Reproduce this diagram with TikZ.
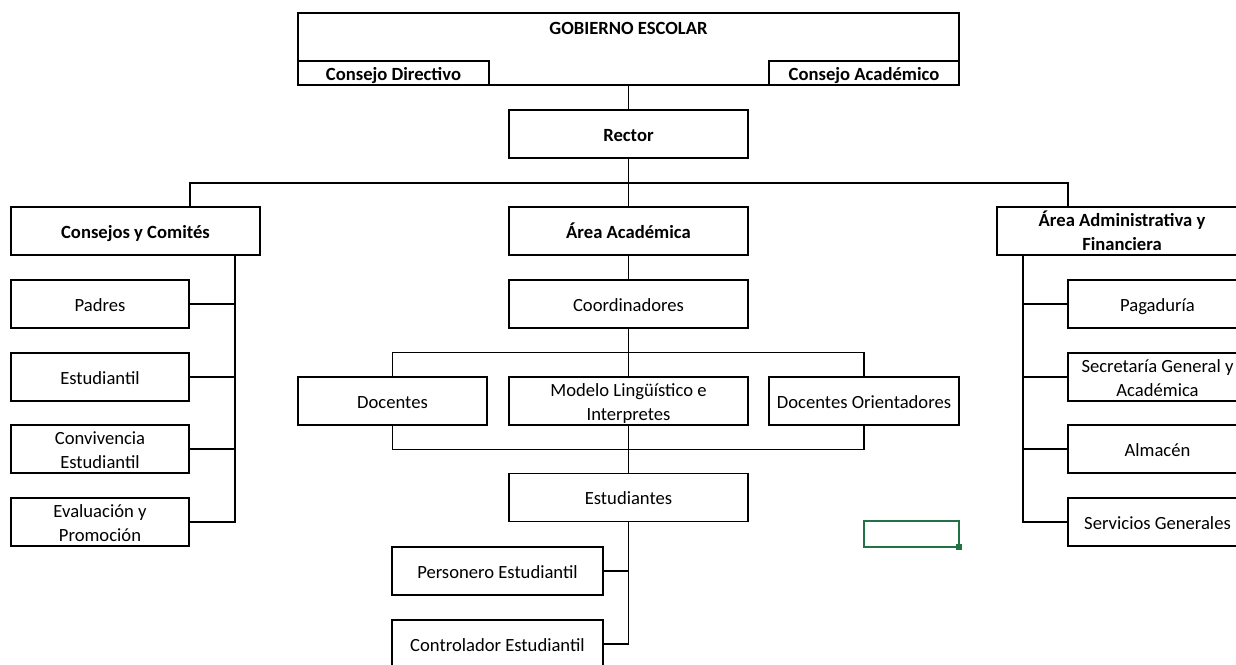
\documentclass[tikz,border=0pt]{standalone}
\usepackage{fontspec}
\setmainfont{Carlito}
\usetikzlibrary{positioning}
\definecolor{xlgreen}{HTML}{217346}
\newcommand\topstrut{\rule{0pt}{10pt}}
\newcommand\botstrut{\rule[-2pt]{0pt}{2pt}}
\newcommand\twolines[2]{\rule{0pt}{11pt}#1\\#2}

\begin{document}
\begin{tikzpicture}[x=0.02cm,y=-0.02cm,line width=0.75pt,
  every node/.style={draw,rectangle,align=center,inner sep=0.5pt,minimum height=0.96cm,
    font=\fontsize{10.6}{13.6}\selectfont,execute at begin node=\topstrut,execute at end node=\botstrut},
  head/.style={font=\fontsize{10.6}{13.6}\selectfont\bfseries},
  twoline/.style={inner ysep=0pt,execute at begin node={},execute at end node={}},
  wbox/.style={minimum width=4.78cm},
  sbox/.style={minimum width=3.56cm}]

\useasboundingbox (0,0) rectangle (1236,664);
\clip (0,0) rectangle (1236,664);

% gobierno escolar
\node[minimum width=13.22cm,minimum height=1.44cm](gob) at (628.5,49) {};
\node[draw=none,head] at (628.5,27) {GOBIERNO ESCOLAR};
\node[head,minimum width=3.82cm,minimum height=0.48cm](dir) at (393.5,73) {Consejo Directivo};
\node[head,minimum width=3.8cm,minimum height=0.48cm](acad) at (864,73) {Consejo Acad\'emico};

\node[head,wbox](rector) at (628.5,134) {Rector};

% areas
\node[head,minimum width=4.98cm](consejos) at (135.5,231) {Consejos y Comit\'es};
\node[head,wbox](area) at (628.5,231) {\'Area Acad\'emica};
\node[head,twoline,minimum width=5cm](adm) at (1122,231) {\twolines{\'Area Administrativa y}{Financiera}};

\node[sbox](padres) at (100,304) {Padres};
\node[sbox](estu) at (100,377) {Estudiantil};
\node[sbox,twoline](conv) at (100,449) {\twolines{Convivencia}{Estudiantil}};
\node[sbox,twoline](eval) at (100,522) {\twolines{Evaluaci\'on y}{Promoci\'on}};

\node[wbox](coord) at (628.5,304) {Coordinadores};
\node[minimum width=3.78cm](doc) at (392.5,401) {Docentes};
\node[wbox,twoline](modelo) at (628.5,401) {\twolines{Modelo Ling\"u\'istico e}{Interpretes}};
\node[minimum width=3.8cm](orient) at (864,401) {Docentes Orientadores};
\node[wbox](estud) at (628.5,497.5) {Estudiantes};
\node[minimum width=4.22cm](pers) at (497.5,571) {Personero Estudiantil};
\node[minimum width=4.22cm](contr) at (497.5,644) {Controlador Estudiantil};

\node[minimum width=3.58cm](pag) at (1157.5,304) {Pagadur\'ia};
\node[minimum width=3.58cm,twoline](sec) at (1157.5,377) {\twolines{Secretar\'ia General y}{Acad\'emica}};
\node[minimum width=3.58cm](alm) at (1157.5,449) {Almac\'en};
\node[minimum width=3.58cm](serv) at (1157.5,522) {Servicios Generales};

\coordinate (cjtop) at (190,207);
\coordinate (admtop) at (1068,207);
\coordinate (cjbus) at (235,255);
\coordinate (admbus) at (1023,255);

\draw (gob.south)--(rector.north);
\draw (rector.south)--(area.north);
\draw (cjtop)--++(0,-24)-|(admtop);

\draw (cjbus)|-(eval.east);
\foreach \n in {padres,estu,conv}
	\draw (\n.east)--(\n.east-|cjbus);
\draw (admbus)|-(serv.west);
\foreach \n in {pag,sec,alm}
	\draw (\n.west)--(\n.west-|admbus);

\draw (area.south)--(coord.north);
\draw (coord.south)--(modelo.north);
\draw (doc.north)--++(0,-24)-|(orient.north);
\draw (doc.south)--++(0,24)-|(orient.south);
\draw (modelo.south)--(estud.north);
\draw (estud.south)|-(contr.east);
\draw (pers.east)--(pers.east-|estud.south);

% selected cell
\draw[xlgreen,line width=1.3pt] (864,521) rectangle (959,547);
\fill[xlgreen] (955.5,543.5) rectangle (962,550);

\end{tikzpicture}
\end{document}
